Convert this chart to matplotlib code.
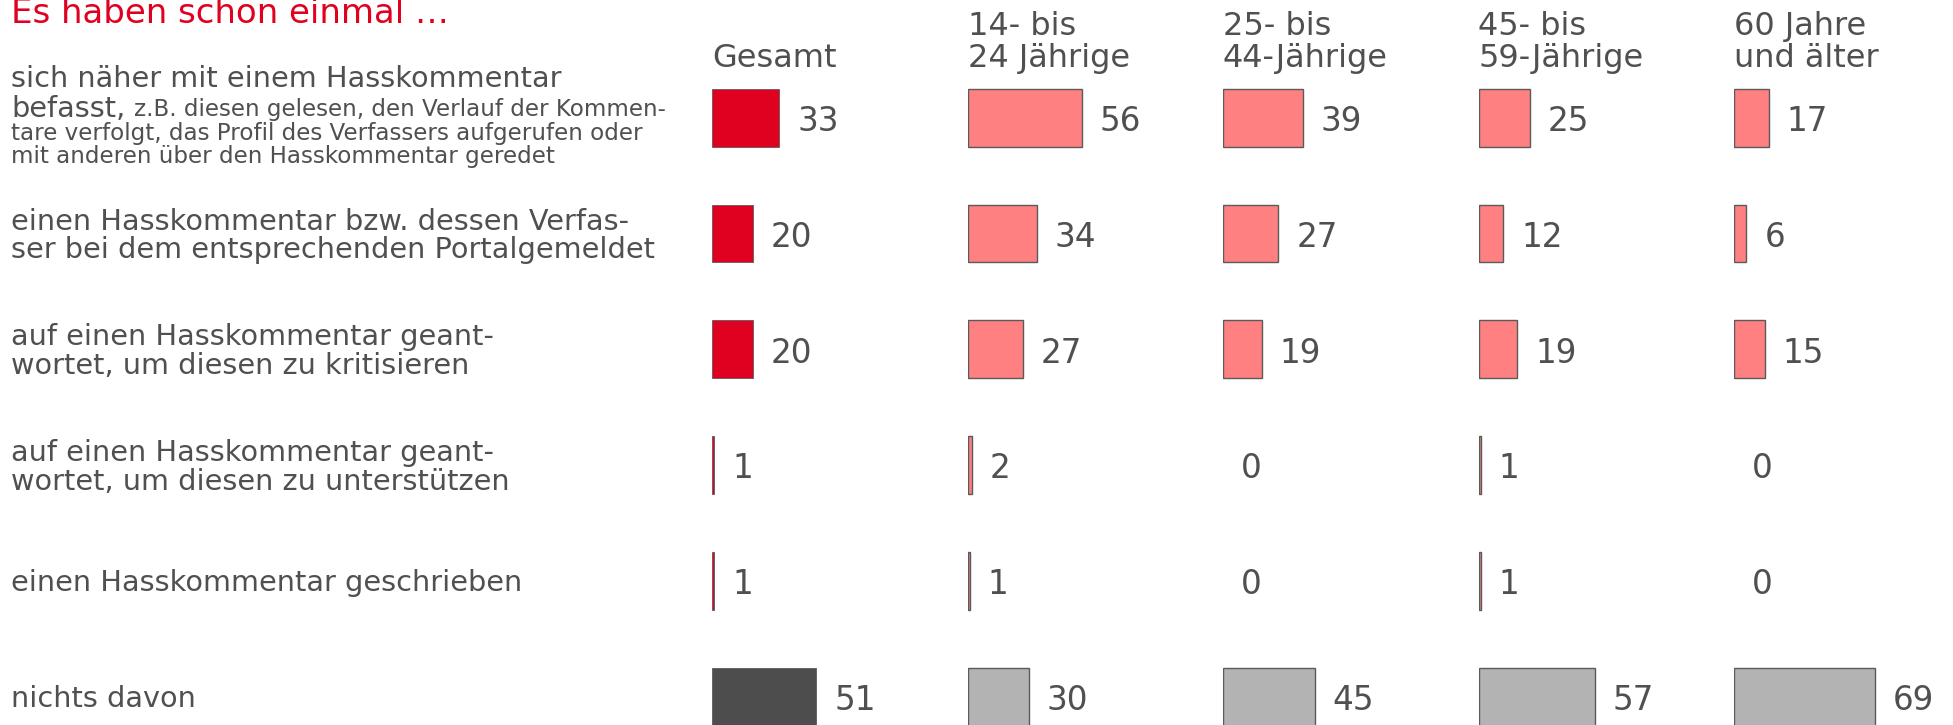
import matplotlib
matplotlib.use("Agg")
import matplotlib.pyplot as plt
import matplotlib.transforms as mtransforms

plt.rcParams["font.family"] = ["DejaVu Sans"]

W, H = 1953, 725

TITLE = "Es haben schon einmal …"
GROUPS = ["Gesamt", "14- bis\n24 Jährige", "25- bis\n44-Jährige",
          "45- bis\n59-Jährige", "60 Jahre\nund älter"]

ROW0_MAIN = ["sich näher mit einem Hasskommentar", "befasst,"]
ROW0_DETAIL = ["z.B. diesen gelesen, den Verlauf der Kommen-",
               "tare verfolgt, das Profil des Verfassers aufgerufen oder",
               "mit anderen über den Hasskommentar geredet"]
ROW_LABELS = [None,
              "einen Hasskommentar bzw. dessen Verfas-\nser bei dem entsprechenden Portalgemeldet",
              "auf einen Hasskommentar geant-\nwortet, um diesen zu kritisieren",
              "auf einen Hasskommentar geant-\nwortet, um diesen zu unterstützen",
              "einen Hasskommentar geschrieben",
              "nichts davon"]

gesamt = [33, 20, 20, 1, 1, 51]
age_14_24 = [56, 34, 27, 2, 1, 30]
age_25_44 = [39, 27, 19, 0, 0, 45]
age_45_59 = [25, 12, 19, 1, 1, 57]
age_60_plus = [17, 6, 15, 0, 0, 69]
columns = [gesamt, age_14_24, age_25_44, age_45_59, age_60_plus]

RED = "#E0001F"
LIGHT_RED = "#FF8080"
DARK_GREY = "#4D4D4D"
LIGHT_GREY = "#B3B3B3"
EDGE = "#5A5A5A"
TXT = "#505050"

LAB_SIZE = 20.7
SMALL_SIZE = 16.6

fig = plt.figure(figsize=(W / 100, H / 100), dpi=100)

# layout in pixels of the original
col_left = 712
col_step = 255.5
px_per_unit = 2.04
row0 = 117.7
row_step = 115.8
n_rows = len(gesamt)
ax_top = row0 - row_step / 2
ax_bot = row0 + (n_rows - 0.5) * row_step

axes = []
for k, vals in enumerate(columns):
    left = (col_left + k * col_step) / W
    ax = fig.add_axes([left, 1 - ax_bot / H, 100 * px_per_unit / W, (ax_bot - ax_top) / H])
    ax.set_xlim(0, 100)
    ax.set_ylim(n_rows - 0.5, -0.5)
    ax.axis("off")
    rows = range(n_rows)
    if k == 0:
        colors = [RED] * (n_rows - 1) + [DARK_GREY]
    else:
        colors = [LIGHT_RED] * (n_rows - 1) + [LIGHT_GREY]
    lws = [0 if v == 0 else (0.6 if k == 0 else 1.0) for v in vals]
    ax.barh(rows, vals, height=0.5, color=colors, edgecolor=EDGE, linewidth=lws,
            align="center")
    for i, v in enumerate(vals):
        ax.annotate(str(v), xy=(v, i), xytext=(13, -9.6), textcoords="offset points",
                    va="baseline", ha="left", fontsize=23.5, color=TXT,
                    annotation_clip=False)
    # column header
    lines = GROUPS[k].split("\n")
    for j, line in enumerate(reversed(lines)):
        ax.annotate(line, xy=(0, 0), xytext=(0, 36.7 + 22.8 * j),
                    textcoords="offset points", va="baseline", ha="left",
                    fontsize=23, color=TXT, annotation_clip=False)
    axes.append(ax)

ax0 = axes[0]
blend = mtransforms.blended_transform_factory(fig.transFigure, ax0.transData)
x_lab = 11 / W


def put(text, row, dy, size):
    return ax0.annotate(text, xy=(x_lab, row), xycoords=blend, xytext=(0, dy),
                        textcoords="offset points", va="baseline", ha="left",
                        fontsize=size, color=TXT, annotation_clip=False)


# first row: mixed sizes
put(ROW0_MAIN[0], 0, 22.0, LAB_SIZE)
bef = put(ROW0_MAIN[1], 0, 0.7, LAB_SIZE)
ax0.annotate(ROW0_DETAIL[0], xy=(1, 0), xycoords=bef, xytext=(6.5, 0.9),
             textcoords="offset points", va="bottom", ha="left",
             fontsize=SMALL_SIZE, color=TXT, annotation_clip=False)
put(ROW0_DETAIL[1], 0, -16.1, SMALL_SIZE)
put(ROW0_DETAIL[2], 0, -32.8, SMALL_SIZE)

# other rows
cap = 0.729 * LAB_SIZE
step = 20.6
for i, lab in enumerate(ROW_LABELS):
    if lab is None:
        continue
    lines = lab.split("\n")
    total = cap + (len(lines) - 1) * step
    first = total / 2 - cap
    for j, line in enumerate(lines):
        put(line, i, first - j * step, LAB_SIZE)

fig.text(x_lab, 1 - 23.3 / H, TITLE, va="baseline", ha="left", fontsize=24.5, color=RED)

fig.savefig("out.png", dpi=100)
